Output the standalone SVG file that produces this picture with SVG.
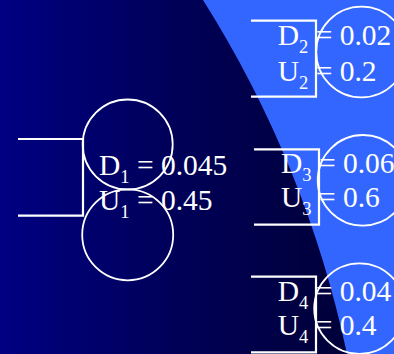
<svg xmlns="http://www.w3.org/2000/svg" width="394" height="354" viewBox="0 0 394 354">
<defs>
<linearGradient id="bg" x1="0" y1="0" x2="1" y2="0">
<stop offset="0" stop-color="#000082"/>
<stop offset="0.45" stop-color="#000058"/>
<stop offset="1" stop-color="#000030"/>
</linearGradient>
</defs>
<style>
.ln{fill:none;stroke:#fff;stroke-width:2.2}
.c{fill:none;stroke:#fff;stroke-width:1.8}
.t{fill:#fff;font-family:"Liberation Serif","Times New Roman",serif;font-size:29.5px}
.s{font-size:18.5px}
</style>
<rect x="0" y="0" width="394" height="354" fill="url(#bg)"/>
<path d="M203,0 A1090,1090 0 0 1 347,354 L394,354 L394,0 Z" fill="#3366ff"/>
<g id="connectors">
<polyline class="ln" points="18,139 83,139 83,215.7 18,215.7"/>
<polyline class="ln" points="251,20.7 316,20.7 316,96.7 251,96.7"/>
<polyline class="ln" points="254,149.3 319,149.3 319,224.7 254,224.7"/>
<polyline class="ln" points="251,276.7 316,276.7 316,352.3 251,352.3"/>
</g>
<g id="node1">
<circle class="c" cx="127.7" cy="144.5" r="45"/>
<circle class="c" cx="127.7" cy="234.8" r="45.5"/>
<text class="t" x="99" y="175">D<tspan class="s" dy="8">1</tspan><tspan dy="-8"> = 0.045</tspan></text>
<text class="t" x="99" y="209.5">U<tspan class="s" dy="8">1</tspan><tspan dy="-8"> = 0.45</tspan></text>
</g>
<g id="node2">
<circle class="c" cx="361.5" cy="52" r="45.3"/>
<text class="t" x="277.7" y="44.5">D<tspan class="s" dy="8">2</tspan><tspan dy="-8"> = 0.02</tspan></text>
<text class="t" x="277.7" y="80.5">U<tspan class="s" dy="8">2</tspan><tspan dy="-8"> = 0.2</tspan></text>
</g>
<g id="node3">
<circle class="c" cx="363" cy="180.3" r="45.3"/>
<text class="t" x="281" y="173.3">D<tspan class="s" dy="8">3</tspan><tspan dy="-8"> = 0.06</tspan></text>
<text class="t" x="281" y="207">U<tspan class="s" dy="8">3</tspan><tspan dy="-8"> = 0.6</tspan></text>
</g>
<g id="node4">
<circle class="c" cx="359.5" cy="308.6" r="45.3"/>
<text class="t" x="277.7" y="300.5">D<tspan class="s" dy="8">4</tspan><tspan dy="-8"> = 0.04</tspan></text>
<text class="t" x="277.7" y="335">U<tspan class="s" dy="8">4</tspan><tspan dy="-8"> = 0.4</tspan></text>
</g>
</svg>
